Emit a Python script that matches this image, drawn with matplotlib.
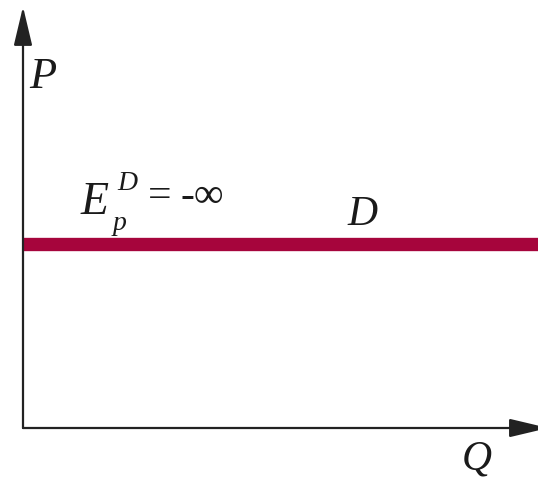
# Perfectly elastic demand curve (E_p^D = -inf)
import numpy as np
import matplotlib.pyplot as plt
from matplotlib.patches import ArrowStyle

# demand: same price for every quantity
q = [0, 10]
p_demand = [4.39, 4.39]

W, H = 538, 479
fig = plt.figure(figsize=(W / 100, H / 100), dpi=100)
ax = fig.add_axes([23 / W, (H - 428) / H, (W - 23) / W, 418 / H])
ax.set_xlim(0, 10)
ax.set_ylim(0, 10)
ax.axis('off')

ax.plot(q, p_demand, color='#A6053C', linewidth=9.6, solid_capstyle='butt')

# axes with arrow heads
head = ArrowStyle('-|>', head_length=1.6, head_width=0.38)
for end in [(0, 1.008), (1.02, 0)]:
    ax.annotate('', xy=end, xytext=(0, 0), xycoords='axes fraction',
                arrowprops=dict(arrowstyle=head, mutation_scale=15, lw=1.6,
                                color='#222222', shrinkA=0, shrinkB=0),
                annotation_clip=False)


def px_text(x, y, s, size, style='italic', **kw):
    fig.text(x / W, 1 - y / H, s, fontsize=size, family='Liberation Serif',
             style=style, color='#1a1a1a', ha='left', va='baseline', **kw)


px_text(29, 88, 'P', 32)
px_text(81, 214, 'E', 33)
px_text(113, 230, 'p', 20)
px_text(117, 190, 'D', 20)
px_text(148, 207, '=', 30, style='normal')
px_text(181, 207, '-∞', 30, style='normal')
px_text(347, 225, 'D', 30)
px_text(462, 470, 'Q', 30)

fig.savefig('out.png', dpi=100)
